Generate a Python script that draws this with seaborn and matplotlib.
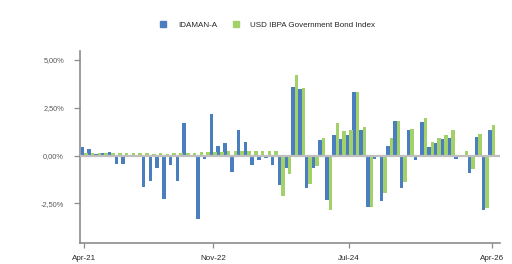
import numpy as np
import pandas as pd
import matplotlib
matplotlib.use("Agg")
import matplotlib.pyplot as plt
import seaborn as sns
from matplotlib.lines import Line2D

months = [d.strftime("%b-%y") for d in pd.date_range("2021-04-01", "2026-04-01", freq="MS")]

idaman = [0.45, 0.35, 0.09, 0.14, 0.19, -0.47, -0.47, -0.05, -0.03, -1.67,
          -1.36, -0.67, -2.30, -0.52, -1.36, 1.72, -0.10, -3.34, -0.20, 2.19,
          0.51, 0.63, -0.88, 1.36, 0.73, -0.51, -0.24, -0.14, -0.51, -1.56,
          -0.66, 3.61, 3.46, -1.72, -0.66, 0.79, -2.35, 1.05, 0.84, 1.05,
          3.30, 1.31, -2.71, -0.20, -2.40, 0.52, 1.83, -1.72, 1.31, -0.25,
          1.73, 0.42, 0.68, 0.84, 0.89, -0.16, -0.10, -0.89, 0.99, -2.83,
          1.31]
ibpa = [0.13, 0.12, 0.13, 0.14, 0.14, 0.14, 0.14, 0.14, 0.14, 0.14,
        0.09, 0.14, 0.09, 0.13, 0.14, 0.14, 0.14, 0.16, 0.16, 0.16,
        0.20, 0.21, 0.21, 0.21, 0.21, 0.21, 0.21, 0.26, 0.26, -2.13,
        -0.99, 4.19, 3.51, -1.51, -0.57, 0.94, -2.87, 1.68, 1.26, 1.36,
        3.30, 1.47, -2.67, -0.09, -1.98, 0.89, 1.83, -1.40, 1.41, 0.02,
        1.94, 0.73, 0.89, 1.05, 1.31, 0.02, 0.21, -0.73, 1.15, -2.77,
        1.62]

series_names = ["IDAMAN-A", "USD IBPA Government Bond Index"]
colors = ["#4a7ebf", "#a2d16a"]
ytick_vals = [-2.5, 0, 2.5, 5.0]
ytick_labels = ["-2,50%", "0,00%", "2,50%", "5,00%"]
xtick_labels = ["Apr-21", "Nov-22", "Jul-24", "Apr-26"]

df = pd.DataFrame({
    "month": months * 2,
    "series": [series_names[0]] * len(months) + [series_names[1]] * len(months),
    "value": idaman + ibpa,
})

sns.set_style("white")
plt.rcParams["font.family"] = ["Liberation Sans", "DejaVu Sans"]

fig = plt.figure(figsize=(5.12, 2.64), dpi=100)
ax = fig.add_axes([80 / 512, 21 / 264, 420 / 512, 192 / 264])

sns.barplot(data=df, x="month", y="value", hue="series", order=months,
            hue_order=series_names, palette=colors, width=1.04,
            saturation=1, legend=False, ax=ax, zorder=2, linewidth=0,
            edgecolor="none")

ax.axhline(0, color="#bfbfbf", lw=1.6, zorder=3)
ax.set_ylim(-4.58, 5.47)
ax.set_xlim(-0.6, 61.2)

ax.set_yticks(ytick_vals)
ax.set_yticklabels(ytick_labels)
xpos = [months.index(m) for m in xtick_labels]
ax.set_xticks(xpos)
ax.set_xticklabels(xtick_labels)

ax.set_xlabel("")
ax.set_ylabel("")
for s in ["top", "right"]:
    ax.spines[s].set_visible(False)
for s in ["left", "bottom"]:
    ax.spines[s].set_color("#8c8c8c")
    ax.spines[s].set_linewidth(1.2)

ax.tick_params(axis="y", length=4.5, width=0.9, color="#8c8c8c",
               labelsize=5.3, labelcolor="#595959", pad=7, left=True)
ax.tick_params(axis="x", length=3.5, width=0.9, color="#8c8c8c",
               labelsize=5.8, labelcolor="#262626", pad=5, bottom=True)

handles = [Line2D([], [], marker="s", linestyle="none", markersize=4.5,
                  markerfacecolor=c, markeredgecolor=c) for c in colors]
fig.legend(handles, series_names, loc="center", bbox_to_anchor=(0.518, 0.905),
           ncol=2, frameon=False, fontsize=5.8, handletextpad=0.8,
           columnspacing=1.3, labelcolor="#262626")

fig.savefig("out.png", dpi=100)
